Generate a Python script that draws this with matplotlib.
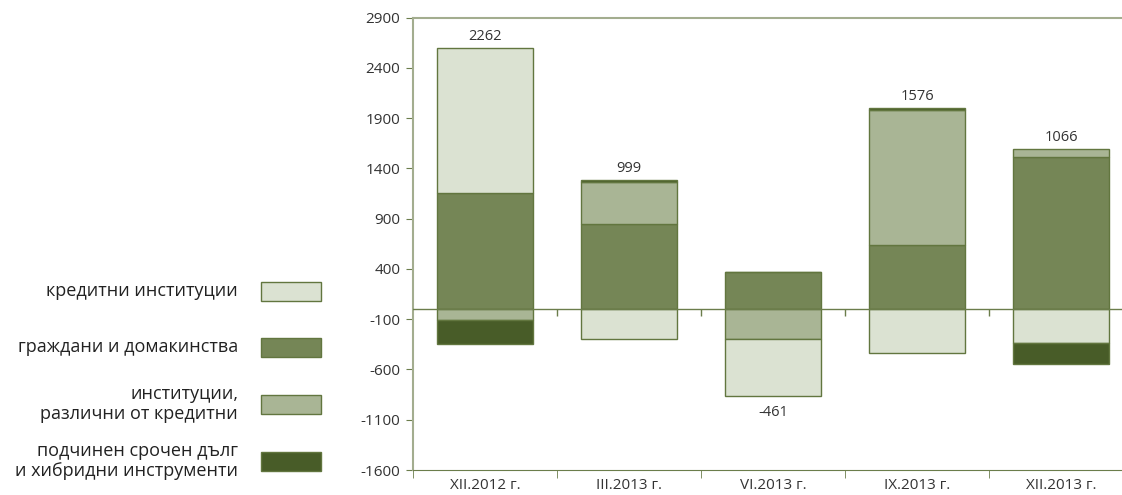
import numpy as np
import matplotlib.pyplot as plt
from matplotlib.patches import Rectangle

plt.rcParams['font.family'] = ['Open Sans', 'DejaVu Sans']

categories = ['XII.2012 г.', 'III.2013 г.', 'VI.2013 г.', 'IX.2013 г.', 'XII.2013 г.']

# stacked in this order away from zero
households   = [1159, 845, 365, 642, 1517]
other_inst   = [-104, 421, -294, 1340, 77]
credit_inst  = [1437, -296, -565, -439, -340]
subordinated = [-242, 20, 0, 17, -208]
totals       = [2262, 999, -461, 1576, 1066]

series = [
    ('граждани и домакинства', households, '#758656'),
    ('институции,\nразлични от кредитни', other_inst, '#a9b595'),
    ('кредитни институции', credit_inst, '#dbe2d2'),
    ('подчинен срочен дълг\nи хибридни инструменти', subordinated, '#485c28'),
]
legend_order = [2, 0, 1, 3]

yticks = [-1600, -1100, -600, -100, 400, 900, 1400, 1900, 2400, 2900]

fig = plt.figure(figsize=(11.22, 4.95), dpi=100)
ax = fig.add_axes([413 / 1122, 25 / 495, 720 / 1122, 452.3 / 495])

x = np.arange(len(categories))
pos_base = np.zeros(len(categories))
neg_base = np.zeros(len(categories))
for name, vals, col in series:
    v = np.array(vals, float)
    base = np.where(v >= 0, pos_base, neg_base)
    ax.bar(x, v, 0.67, bottom=base, color=col, edgecolor='#62763f',
           linewidth=1, zorder=2)
    pos_base += np.where(v >= 0, v, 0)
    neg_base += np.where(v < 0, v, 0)

for i, t in enumerate(totals):
    if t >= 0:
        ax.annotate(str(t), (x[i], pos_base[i]), xytext=(0, 3),
                    textcoords='offset points', ha='center', va='bottom',
                    fontsize=10.5, color='#333333')
    else:
        ax.annotate(str(t), (x[i], neg_base[i]), xytext=(0, -7),
                    textcoords='offset points', ha='center', va='top',
                    fontsize=10.5, color='#333333')

ax.axhline(0, color='#6b7d4b', linewidth=1, zorder=3)
bounds = np.arange(len(categories) - 1) + 0.5
ax.vlines(bounds, -70, 0, color='#6b7d4b', linewidth=1, zorder=3)

ax.set_xlim(-0.5, len(categories) - 0.5)
ax.set_ylim(-1600, 2900)
ax.set_yticks(yticks)
ax.set_yticklabels([str(t) for t in yticks], fontsize=11, color='#333333')
ax.set_xticks(x)
ax.set_xticklabels(categories, fontsize=11, color='#333333')
ax.set_xticks(np.arange(len(categories) + 1) - 0.5, minor=True)
ax.tick_params(axis='x', which='major', length=0, pad=6)
ax.tick_params(axis='x', which='minor', length=6, color='#6b7d4b')
ax.tick_params(axis='y', length=5, color='#6b7d4b', pad=4)

axc = '#a3ad8f'
for s in ['top', 'left']:
    ax.spines[s].set_color(axc)
    ax.spines[s].set_linewidth(1.5)
ax.spines['bottom'].set_color('#6b7d4b')
ax.spines['right'].set_visible(False)

# legend on the left
leg_y = [291, 347, 404, 461]
for k, idx in enumerate(legend_order):
    name, _, col = series[idx]
    yc = leg_y[k]
    fig.add_artist(Rectangle((261 / 1122, 1 - (yc + 9.5) / 495), 60 / 1122, 19 / 495,
                             transform=fig.transFigure, facecolor=col,
                             edgecolor='#62763f', linewidth=1))
    fig.text(238 / 1122, 1 - yc / 495, name, ha='right', va='center',
             fontsize=13, color='#222222', linespacing=1.15)

fig.savefig('out.png', dpi=100)
